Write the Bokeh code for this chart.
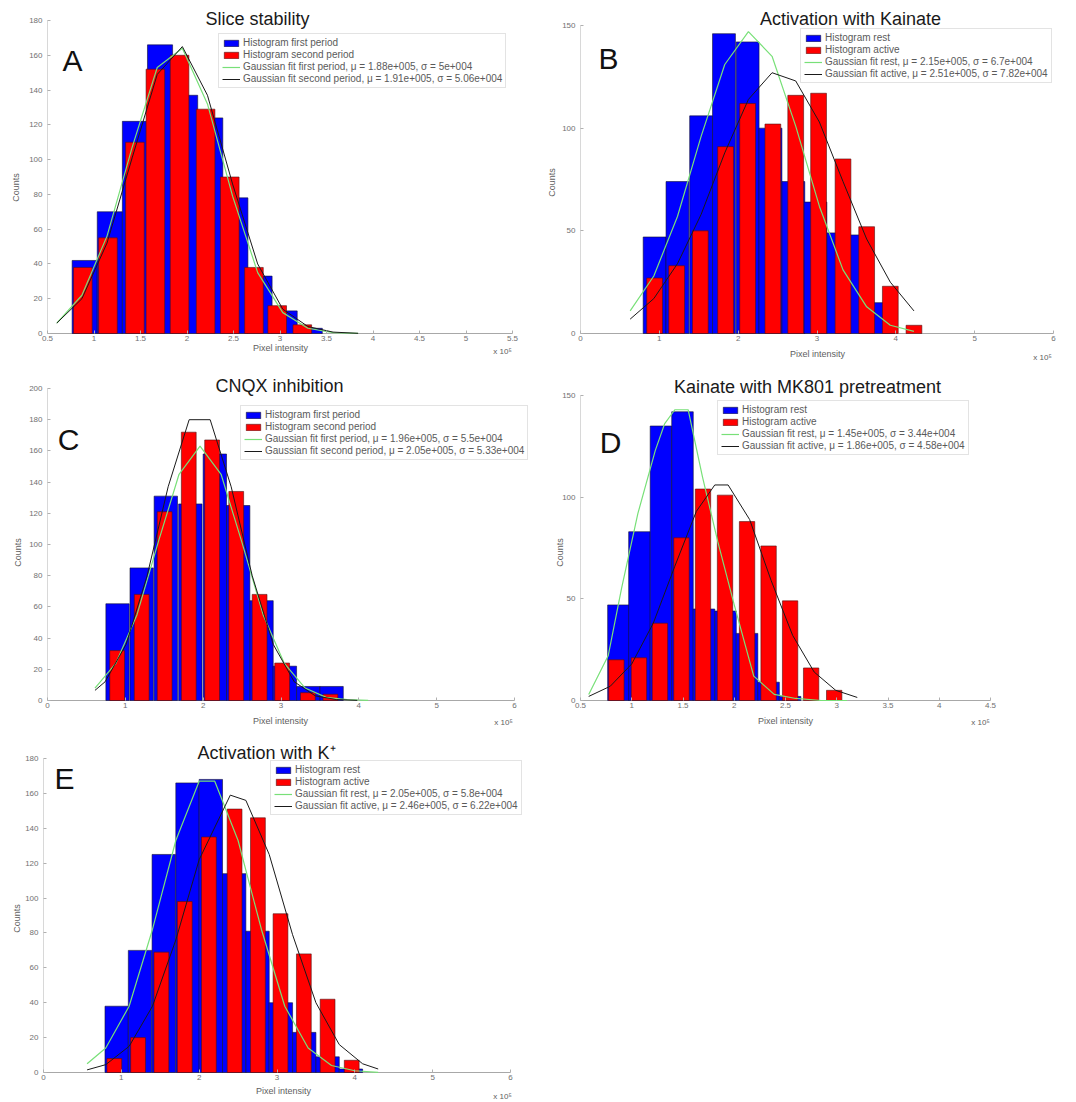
import math
from bokeh.plotting import figure
from bokeh.models import Range1d, FixedTicker, Legend, LegendItem, Label
from bokeh.layouts import column, row
from bokeh.embed import file_html
from bokeh.resources import INLINE

FONT = "Liberation Sans"
BLUE = "#0000ff"
RED = "#ff0000"
GREEN = "#78e078"
BLACK = "#1a1a1a"

# ---------------- Panel A : Slice stability ----------------
A_title = "Slice stability"
A_blue_x = [0.90, 1.17, 1.44, 1.71, 1.98, 2.25, 2.52, 2.78, 3.05, 3.32]
A_blue_y = [42, 70, 122, 166, 137, 124, 78, 33, 13, 3]
A_red_x = [0.88, 1.15, 1.44, 1.66, 1.92, 2.20, 2.46, 2.72, 2.97, 3.24]
A_red_y = [38, 55, 110, 152, 160, 129, 90, 38, 16, 5]
A_fit_x = [0.60, 0.87, 1.14, 1.41, 1.68, 1.95, 2.22, 2.49, 2.76, 3.03, 3.30, 3.57, 3.84]
A_green_y = [6, 22, 56, 107, 153, 164, 132, 79, 35, 12, 3, 0.5, 0.1]
A_black_y = [6, 20, 52, 101, 149, 165, 137, 86, 40, 14, 4, 0.8, 0.1]
A_xticks = [0.5, 1, 1.5, 2, 2.5, 3, 3.5, 4, 4.5, 5, 5.5]
A_xlabels = ["0.5", "1", "1.5", "2", "2.5", "3", "3.5", "4", "4.5", "5", "5.5"]
A_yticks = [0, 20, 40, 60, 80, 100, 120, 140, 160, 180]
A_legend = ["Histogram first period", "Histogram second period",
            "Gaussian fit first period, μ = 1.88e+005, σ = 5e+004",
            "Gaussian fit second period, μ = 1.91e+005, σ = 5.06e+004"]

# ---------------- Panel B : Activation with Kainate ----------------
B_title = "Activation with Kainate"
B_blue_x = [0.94, 1.23, 1.53, 1.82, 2.12, 2.41, 2.70, 2.98, 3.27, 3.56, 3.85]
B_blue_y = [47, 74, 106, 146, 142, 100, 74, 64, 49, 48, 15]
B_red_x = [0.94, 1.22, 1.52, 1.84, 2.12, 2.44, 2.73, 3.02, 3.33, 3.63, 3.93, 4.23]
B_red_y = [27, 33, 50, 91, 112, 102, 116, 117, 85, 52, 23, 4]
B_fit_x = [0.63, 0.93, 1.23, 1.53, 1.83, 2.13, 2.43, 2.73, 3.03, 3.33, 3.63, 3.93, 4.23]
B_green_y = [11, 28, 57, 96, 131, 147, 135, 101, 62, 31, 13, 4, 1]
B_black_y = [7, 17, 34, 58, 88, 114, 127, 123, 103, 74, 46, 25, 11]
B_xticks = [0, 1, 2, 3, 4, 5, 6]
B_xlabels = ["0", "1", "2", "3", "4", "5", "6"]
B_yticks = [0, 50, 100, 150]
B_legend = ["Histogram rest", "Histogram active",
            "Gaussian fit rest, μ = 2.15e+005, σ = 6.7e+004",
            "Gaussian fit active, μ = 2.51e+005, σ = 7.82e+004"]

# ---------------- Panel C : CNQX inhibition ----------------
C_title = "CNQX inhibition"
C_blue_x = [0.90, 1.21, 1.52, 1.835, 2.15, 2.45, 2.75, 3.05, 3.35, 3.65]
C_blue_y = [62, 85, 131, 126, 158, 125, 64, 22, 9, 9]
C_red_x = [0.895, 1.21, 1.505, 1.815, 2.115, 2.425, 2.725, 3.015, 3.345, 3.635]
C_red_y = [32, 68, 121, 172, 167, 134, 68, 24, 5, 4]
C_green_x = [0.61, 0.88, 1.15, 1.42, 1.69, 1.96, 2.23, 2.50, 2.77, 3.04, 3.31, 3.58, 3.85, 4.12]
C_green_y = [8, 24, 55, 101, 145, 163, 145, 101, 55, 24, 8, 2, 0.5, 0.1]
C_black_x = [0.61, 0.74, 1.01, 1.28, 1.55, 1.82, 2.09, 2.36, 2.63, 2.90, 3.17, 3.44, 3.71, 3.98]
C_black_y = [6.5, 12, 36, 80, 137, 180, 180, 137, 80, 36, 12, 3, 0.6, 0.1]
C_xticks = [0, 1, 2, 3, 4, 5, 6]
C_xlabels = ["0", "1", "2", "3", "4", "5", "6"]
C_yticks = [0, 20, 40, 60, 80, 100, 120, 140, 160, 180, 200]
C_legend = ["Histogram first period", "Histogram second period",
            "Gaussian fit first period, μ = 1.96e+005, σ = 5.5e+004",
            "Gaussian fit second period, μ = 2.05e+005, σ = 5.33e+004"]

# ---------------- Panel D : Kainate with MK801 pretreatment ----------------
D_title = "Kainate with MK801 pretreatment"
D_blue_x = [0.87, 1.075, 1.285, 1.495, 1.705, 1.915, 2.125, 2.335, 2.545]
D_blue_y = [47, 83, 135, 142, 45, 44, 33, 9, 2]
D_red_x = [0.85, 1.07, 1.275, 1.485, 1.695, 1.91, 2.125, 2.335, 2.545, 2.75, 2.975]
D_red_y = [20, 21, 38, 80, 104, 101, 88, 76, 49, 16, 5]
D_green_x = [0.58, 0.77, 0.90, 1.06, 1.23, 1.32, 1.42, 1.55, 1.69, 1.84, 2.00, 2.19, 2.39, 2.60, 2.85, 3.10]
D_green_y = [3, 22, 55, 92, 123, 136, 143, 143, 110, 78, 47, 12, 3, 1, 0, 0]
D_black_x = [0.58, 0.79, 1.00, 1.21, 1.42, 1.63, 1.81, 1.94, 2.15, 2.36, 2.57, 2.78, 2.99, 3.20]
D_black_y = [2, 7, 18, 38, 66, 93, 106, 106, 89, 59, 32, 14, 5, 1.5]
D_xticks = [0.5, 1, 1.5, 2, 2.5, 3, 3.5, 4, 4.5]
D_xlabels = ["0.5", "1", "1.5", "2", "2.5", "3", "3.5", "4", "4.5"]
D_yticks = [0, 50, 100, 150]
D_legend = ["Histogram rest", "Histogram active",
            "Gaussian fit rest, μ = 1.45e+005, σ = 3.44e+004",
            "Gaussian fit active, μ = 1.86e+005, σ = 4.58e+004"]

# ---------------- Panel E : Activation with K+ ----------------
E_title = "Activation with K⁺"
E_blue_x = [0.94, 1.24, 1.545, 1.85, 2.15, 2.45, 2.75, 3.05, 3.35, 3.65, 3.95]
E_blue_y = [38, 70, 125, 166, 168, 114, 81, 40, 23, 9, 2]
E_red_x = [0.91, 1.215, 1.515, 1.815, 2.125, 2.455, 2.755, 3.045, 3.345, 3.65, 3.96]
E_red_y = [8, 20, 69, 98, 135, 151, 146, 91, 68, 42, 7]
E_green_x = [0.56, 0.80, 1.10, 1.40, 1.70, 2.00, 2.20, 2.50, 2.80, 3.10, 3.40, 3.70, 4.00, 4.30]
E_green_y = [5, 14, 38, 82, 133, 167, 167, 133, 82, 38, 14, 4, 1, 0.1]
E_black_x = [0.56, 0.80, 1.10, 1.40, 1.70, 2.00, 2.40, 2.60, 2.90, 3.20, 3.50, 3.80, 4.10, 4.30]
E_black_y = [1.5, 4.5, 15, 38, 76, 122, 159, 156, 125, 79, 40, 16, 5, 2]
E_xticks = [0, 1, 2, 3, 4, 5, 6]
E_xlabels = ["0", "1", "2", "3", "4", "5", "6"]
E_yticks = [0, 20, 40, 60, 80, 100, 120, 140, 160, 180]
E_legend = ["Histogram rest", "Histogram active",
            "Gaussian fit rest, μ = 2.05e+005, σ = 5.8e+004",
            "Gaussian fit active, μ = 2.46e+005, σ = 6.22e+004"]

X_LABEL = "Pixel intensity"
Y_LABEL = "Counts"
EXPONENT = "x 10⁵"


def make_panel(letter, title, origin, size, frame, xr, yr, xticks, xlabels, yticks,
               blue, red, green, black, legend_labels, layout):
    ox, oy = origin
    W, H = size
    L, T, R, B = frame          # page pixels of the axes box
    xmin, xmax = xr
    ymin, ymax = yr
    # the plotting frame covers the whole figure; the axes sit inside it
    sx = (xmax - xmin) / (R - L)
    sy = (ymax - ymin) / (B - T)
    x_range = Range1d(xmin - (L - ox) * sx, xmax + (ox + W - R) * sx)
    y_range = Range1d(ymin - (oy + H - B) * sy, ymax + (T - oy) * sy)

    p = figure(width=W, height=H, output_backend="svg", toolbar_location=None, title=None,
               x_range=x_range, y_range=y_range,
               min_border_left=0, min_border_right=0, min_border_top=0, min_border_bottom=0)
    p.background_fill_color = "white"
    p.border_fill_color = "white"
    p.outline_line_color = None
    p.xgrid.visible = False
    p.ygrid.visible = False

    for ax in (p.xaxis[0], p.yaxis[0]):
        ax.axis_line_color = None
        ax.major_tick_in = 3
        ax.major_tick_out = 0
        ax.major_tick_line_color = "#b0b0b0"
        ax.minor_tick_line_color = None
        ax.major_label_text_font = FONT
        ax.major_label_text_font_size = "8px"
        ax.major_label_text_color = "#707070"
    p.xaxis.fixed_location = ymin
    p.yaxis.fixed_location = xmin
    p.xaxis.ticker = FixedTicker(ticks=xticks)
    p.xaxis.major_label_overrides = {float(t): s for t, s in zip(xticks, xlabels)}
    p.xaxis.major_label_standoff = 2
    p.yaxis.ticker = FixedTicker(ticks=yticks)
    p.yaxis.major_label_standoff = 5

    # axis base lines spanning the axis limits
    p.segment(x0=[xmin], y0=[ymin], x1=[xmax], y1=[ymin], line_color="#a8a8a8", line_width=1.2)
    p.segment(x0=[xmin], y0=[ymin], x1=[xmin], y1=[ymax], line_color="#d8d8d8", line_width=1)

    bx, by, bw = blue
    rx, ry, rw = red
    rb = p.vbar(x=bx, top=by, width=bw, bottom=0, fill_color=BLUE,
                line_color="#101030", line_width=0.6)
    rr = p.vbar(x=rx, top=ry, width=rw, bottom=0, fill_color=RED,
                line_color="#501010", line_width=0.6)
    rg = p.line(green[0], green[1], line_color=GREEN, line_width=1.2)
    rk = p.line(black[0], black[1], line_color=BLACK, line_width=1.0)

    def lab(text, X, Y, size_px, color, angle=0.0, align="center"):
        p.add_layout(Label(x=X - ox, y=oy + H - Y, x_units="screen", y_units="screen",
                           text=text, text_font=FONT, text_font_size=f"{size_px}px",
                           text_color=color, text_align=align, text_baseline="middle",
                           angle=angle))

    lab(title, *layout["title"], 18, "#1a1a1a")
    lab(letter, *layout["letter"], 30, "#111111")
    lab(X_LABEL, *layout["xlabel"], 9, "#606060")
    lab(Y_LABEL, *layout["ylabel"], 9, "#606060", angle=math.pi / 2)
    lab(EXPONENT, *layout["exp"], 8, "#606060")

    leg_left, leg_bottom = layout["legend"]
    legend = Legend(items=[LegendItem(label=legend_labels[0], renderers=[rb]),
                           LegendItem(label=legend_labels[1], renderers=[rr]),
                           LegendItem(label=legend_labels[2], renderers=[rg]),
                           LegendItem(label=legend_labels[3], renderers=[rk])],
                    location=(leg_left - ox, oy + H - leg_bottom))
    legend.label_text_font = FONT
    legend.label_text_font_size = "10px"
    legend.label_text_color = "#5a5a5a"
    legend.glyph_width = 18
    legend.glyph_height = 8
    legend.label_height = 11
    legend.label_standoff = 3
    legend.spacing = 1
    legend.padding = 3
    legend.margin = 0
    legend.border_line_color = "#c8c8c8"
    legend.border_line_width = 1
    legend.background_fill_color = "white"
    legend.background_fill_alpha = 1.0
    p.add_layout(legend)
    return p


pA = make_panel("A", A_title, (0, 0), (540, 370), (47, 20, 512, 333), (0.5, 5.5), (0, 180),
                A_xticks, A_xlabels, A_yticks,
                (A_blue_x, A_blue_y, 0.27), (A_red_x, A_red_y, 0.20),
                (A_fit_x, A_green_y), (A_fit_x, A_black_y), A_legend,
                {"title": (257, 18), "letter": (72, 60), "xlabel": (280, 347),
                 "ylabel": (15, 187), "exp": (502, 351), "legend": (218, 88)})

pB = make_panel("B", B_title, (540, 0), (536, 370), (580, 25, 1053, 333), (0, 6), (0, 150),
                B_xticks, B_xlabels, B_yticks,
                (B_blue_x, B_blue_y, 0.29), (B_red_x, B_red_y, 0.20),
                (B_fit_x, B_green_y), (B_fit_x, B_black_y), B_legend,
                {"title": (850, 18), "letter": (608, 58), "xlabel": (817, 353),
                 "ylabel": (551, 182), "exp": (1042, 357), "legend": (800, 83)})

pC = make_panel("C", C_title, (0, 370), (540, 370), (47, 388, 514, 700), (0, 6), (0, 200),
                C_xticks, C_xlabels, C_yticks,
                (C_blue_x, C_blue_y, 0.30), (C_red_x, C_red_y, 0.19),
                (C_green_x, C_green_y), (C_black_x, C_black_y), C_legend,
                {"title": (279, 385), "letter": (68, 439), "xlabel": (280, 720),
                 "ylabel": (17, 552), "exp": (503, 722), "legend": (240, 460)})

pD = make_panel("D", D_title, (540, 370), (536, 370), (580, 395, 990, 700), (0.5, 4.5), (0, 150),
                D_xticks, D_xlabels, D_yticks,
                (D_blue_x, D_blue_y, 0.21), (D_red_x, D_red_y, 0.15),
                (D_green_x, D_green_y), (D_black_x, D_black_y), D_legend,
                {"title": (807, 386), "letter": (610, 442), "xlabel": (785, 720),
                 "ylabel": (559, 552), "exp": (980, 722), "legend": (717, 455)})

pE = make_panel("E", E_title, (0, 740), (540, 362), (43, 758, 510, 1072), (0, 6), (0, 180),
                E_xticks, E_xlabels, E_yticks,
                (E_blue_x, E_blue_y, 0.30), (E_red_x, E_red_y, 0.19),
                (E_green_x, E_green_y), (E_black_x, E_black_y), E_legend,
                {"title": (266, 752), "letter": (64, 778), "xlabel": (283, 1090),
                 "ylabel": (16, 918), "exp": (502, 1096), "legend": (270, 815)})

p = column(row(pA, pB), row(pC, pD), pE)

open("out.html", "w").write(file_html(p, INLINE))
